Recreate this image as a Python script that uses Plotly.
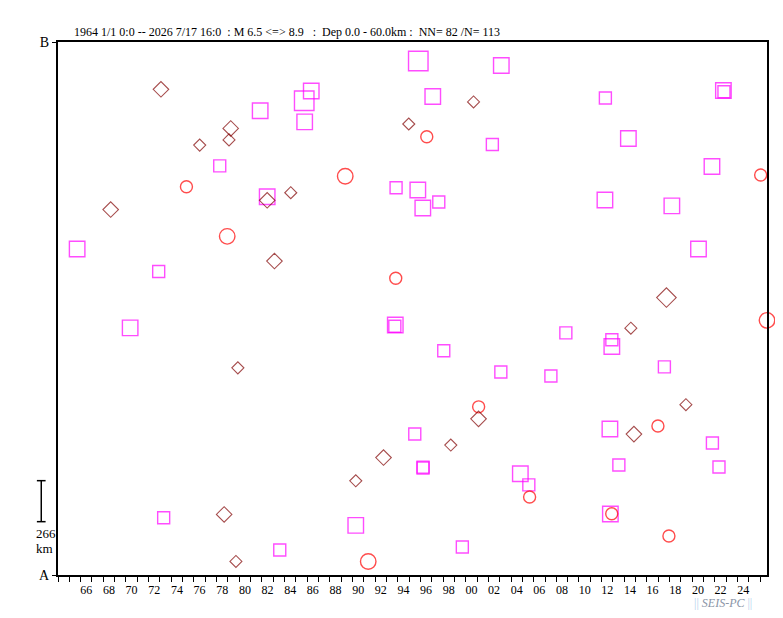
import plotly.graph_objects as go

# ---------------- data ----------------
X_START, X_END = 1964.0, 2026.6          # time axis (years)
PROFILE_KM = 3458                         # A (0 km) -> B (profile length)
SCALE_KM = 266                            # scale bar length
SCALE_FROM_KM = 346

TITLE = "1964 1/1 0:0 -- 2026 7/17 16:0  : M 6.5 <=> 8.9   :  Dep 0.0 - 60.0km :  NN= 82 /N= 113"
TICK_YEARS = list(range(1964, 2027))
LABEL_YEARS = list(range(1966, 2025, 2))
TICK_LABELS = ["%02d" % (y % 100) for y in LABEL_YEARS]
END_LABELS = ["A", "B"]

# squares (magenta)
SQ_YEAR = [1986.36, 1985.74, 1981.85, 1985.78, 1995.81, 2003.14, 1997.09, 2012.33, 2022.75, 2022.80,
           2002.35, 2014.36, 1978.28, 1993.85, 1995.77, 1996.21, 1997.62, 1982.47, 2021.74, 2012.29,
           2018.20, 2020.55, 1965.69, 1972.89, 1970.37, 1993.78, 1993.74, 1998.06, 2003.10, 2007.52,
           2008.84, 2012.90, 2012.90, 2017.54, 1995.50, 1996.23, 1996.23, 2004.82, 2005.57, 2012.73,
           2021.78, 2022.36, 2013.52, 2012.77, 1999.70, 1973.33, 1990.29, 1983.58]
SQ_KM = [3140, 3077, 3012, 2940, 3335, 3306, 3104, 3095, 3143, 3135,
         2793, 2832, 2654, 2512, 2498, 2381, 2420, 2454, 2650, 2433,
         2395, 2115, 2115, 1969, 1603, 1622, 1614, 1455, 1317, 1291,
         1571, 1526, 1482, 1350, 915, 700, 694, 657, 585, 947,
         856, 701, 714, 396, 182, 371, 322, 162]
SQ_MAG = [7.4, 8.2, 7.4, 7.4, 8.2, 7.4, 7.4, 6.8, 7.4, 6.8,
          6.8, 7.4, 6.8, 6.8, 7.4, 7.4, 6.8, 7.4, 7.4, 7.4,
          7.4, 7.4, 7.4, 6.8, 7.4, 7.4, 6.8, 6.8, 6.8, 6.8,
          6.8, 6.8, 7.4, 6.8, 6.8, 6.8, 6.8, 7.4, 6.8, 7.4,
          6.8, 6.8, 6.8, 7.4, 6.8, 6.8, 7.4, 6.8]

# circles (red)
CI_YEAR = [1996.56, 1975.34, 1989.36, 1978.94, 2026.04, 1993.82, 2026.60, 2001.14, 2005.64, 2016.97,
           2012.89, 2017.94, 1991.39]
CI_KM = [2843, 2519, 2587, 2197, 2595, 1925, 1652, 1091, 506, 967, 397, 253, 88]
CI_MAG = [6.8, 6.8, 7.4, 7.4, 6.8, 6.8, 7.4, 6.8, 6.8, 6.8, 6.8, 6.8, 7.4]

# diamonds (dark red)
DI_YEAR = [1973.09, 2000.69, 1994.97, 1979.25, 1979.10, 1976.51, 1982.47, 1984.55, 1968.65, 1983.11,
           1979.88, 2017.72, 2014.58, 2019.44, 2001.13, 1998.68, 2014.85, 1992.74, 1990.29, 1978.67,
           1979.71]
DI_KM = [3151, 3069, 2926, 2897, 2823, 2789, 2431, 2480, 2371, 2037,
         1344, 1800, 1601, 1105, 1013, 843, 914, 762, 611, 393, 88]
DI_MAG = [7.4, 6.8, 6.8, 7.4, 6.8, 6.8, 7.4, 6.8, 7.4, 7.4,
          6.8, 8.2, 6.8, 6.8, 7.4, 6.8, 7.4, 7.4, 6.8, 7.4, 6.8]

# ---------------- style ----------------
SERIF = "Liberation Serif, Times New Roman, serif"
PAGE_OFF = 8          # browser default body margin
PLOT_W, PLOT_H = 708.6, 533.0


def msize(m):
    if m < 7.0:
        return 12
    if m < 8.0:
        return 15.5
    return 19.5


fig = go.Figure()
fig.add_trace(go.Scatter(
    x=SQ_YEAR, y=SQ_KM, mode="markers", cliponaxis=False, hoverinfo="skip",
    marker=dict(symbol="square-open", size=[msize(m) for m in SQ_MAG],
                color="#FF00FF", line=dict(color="#FF00FF", width=1.4))))
fig.add_trace(go.Scatter(
    x=CI_YEAR, y=CI_KM, mode="markers", cliponaxis=False, hoverinfo="skip",
    marker=dict(symbol="circle-open", size=[msize(m) for m in CI_MAG],
                color="#FF0000", line=dict(color="#FF0000", width=1.4))))
fig.add_trace(go.Scatter(
    x=DI_YEAR, y=DI_KM, mode="markers", cliponaxis=False, hoverinfo="skip",
    marker=dict(symbol="diamond-open", size=[msize(m) * 0.77 for m in DI_MAG],
                color="#800000", line=dict(color="#800000", width=1.1))))
# invisible trace to activate label axis
fig.add_trace(go.Scatter(x=[X_START], y=[0], xaxis="x2", mode="markers",
                         marker=dict(opacity=0), hoverinfo="skip"))

fig.update_layout(
    width=783 - PAGE_OFF, height=618 - PAGE_OFF,
    margin=dict(l=58.4 - PAGE_OFF, r=16, t=42 - PAGE_OFF, b=43, autoexpand=False),
    paper_bgcolor="white", plot_bgcolor="white",
    showlegend=False,
    font=dict(family=SERIF, color="black", size=12),
    xaxis=dict(range=[X_START, X_END], showgrid=False, zeroline=False,
               showline=True, mirror=True, linecolor="black", linewidth=2,
               tickmode="array", tickvals=TICK_YEARS, ticks="outside",
               ticklen=5, tickwidth=1, tickcolor="black", showticklabels=False),
    xaxis2=dict(range=[X_START, X_END], overlaying="x", side="bottom",
                showgrid=False, zeroline=False, showline=False,
                tickmode="array", tickvals=[y + 0.5 for y in LABEL_YEARS],
                ticktext=TICK_LABELS, ticks="", ticklabelstandoff=6,
                tickfont=dict(family=SERIF, size=12, color="black")),
    yaxis=dict(range=[0, PROFILE_KM], showgrid=False, zeroline=False,
               showline=True, mirror=True, linecolor="black", linewidth=2,
               tickmode="array", tickvals=[0, PROFILE_KM], ticktext=END_LABELS,
               ticks="outside", ticklen=4, tickwidth=1, tickcolor="black",
               tickfont=dict(family=SERIF, size=14, color="black")),
)

# left axis extension below A
fig.add_shape(type="line", xref="paper", yref="y", x0=0, x1=0, y0=0, y1=-65,
              line=dict(color="black", width=2))

# scale bar
bx = -0.0236
fig.add_shape(type="line", xref="paper", yref="y", x0=bx, x1=bx,
              y0=SCALE_FROM_KM, y1=SCALE_FROM_KM + SCALE_KM, line=dict(color="black", width=1.5))
for yy in (SCALE_FROM_KM, SCALE_FROM_KM + SCALE_KM):
    fig.add_shape(type="line", xref="paper", yref="y", x0=-0.0298, x1=-0.0175,
                  y0=yy, y1=yy, line=dict(color="black", width=1.5))
fig.add_annotation(xref="paper", yref="y", x=-0.0344, y=SCALE_FROM_KM - 77, text=str(SCALE_KM),
                   showarrow=False, xanchor="left", yanchor="middle",
                   font=dict(family=SERIF, size=13, color="black"))
fig.add_annotation(xref="paper", yref="y", x=-0.0344, y=SCALE_FROM_KM - 177, text="km",
                   showarrow=False, xanchor="left", yanchor="middle",
                   font=dict(family=SERIF, size=13, color="black"))

# title
fig.add_annotation(xref="paper", yref="paper", x=(287.5 - 58.4) / PLOT_W, y=1 + 10 / PLOT_H,
                   text=TITLE, showarrow=False, xanchor="center", yanchor="middle",
                   font=dict(family=SERIF, size=12, color="black"))

# credit
fig.add_annotation(xref="paper", yref="paper", x=(723 - 58.4) / PLOT_W, y=-(602.5 - 575) / PLOT_H,
                   text='<span style="color:#b4d2ee">||</span> <i>SEIS-PC</i> <span style="color:#b4d2ee">||</span>',
                   showarrow=False, xanchor="center", yanchor="middle",
                   font=dict(family=SERIF, size=12, color="#8a94a6"))

fig.write_html("out.html")
